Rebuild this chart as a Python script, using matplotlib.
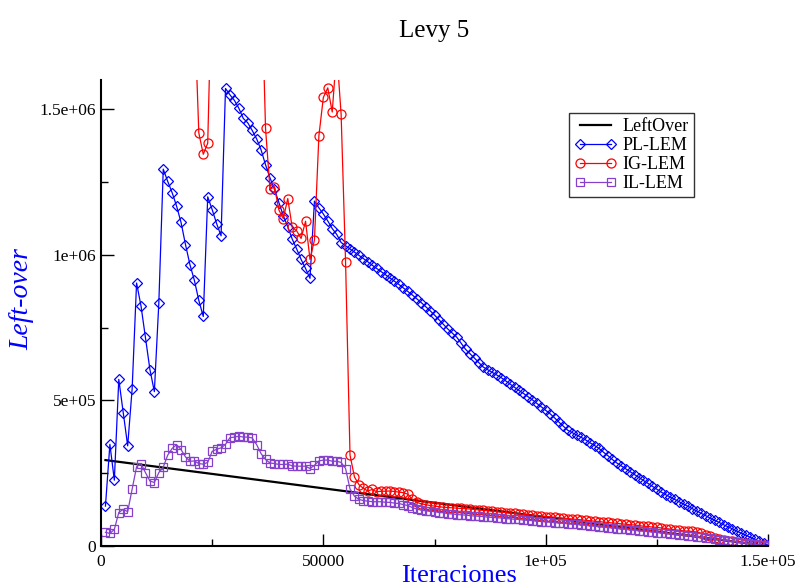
import matplotlib
matplotlib.use("Agg")
import matplotlib.pyplot as plt
from matplotlib.ticker import MultipleLocator, FixedFormatter, FixedLocator

# x in thousands of iterations, y in thousands
pl_x = list(range(1, 151))
pl_y = [137, 349, 226, 572, 457, 344, 539, 903, 824, 716, 606, 530, 833,
        1294, 1252, 1213, 1167, 1111, 1035, 966, 912, 843, 788, 1199, 1155, 1107, 1065,
        1571, 1549, 1530, 1503, 1468, 1453, 1427, 1398, 1360, 1309, 1264, 1225, 1179,
        1134, 1096, 1054, 1020, 984, 953, 919,
        1184, 1161, 1140, 1116, 1090, 1070, 1042,
        1031, 1020, 1009, 998, 987, 976, 964, 953, 942, 931, 920, 909, 898, 886, 874,
        862, 849, 836, 822, 808, 793, 777, 761, 745, 731, 717, 696, 675, 660, 645,
        629, 614, 605, 596, 587, 578, 567, 556, 545, 534, 524, 513, 502, 490, 478,
        466, 454, 440, 425, 411, 397, 389, 381, 373, 364, 354, 345, 335, 322, 310,
        297, 285, 275, 265, 255, 245, 235, 225, 215, 205, 195, 185, 176, 168, 160,
        152, 144, 136, 128, 120, 112, 104, 96, 88, 81, 73, 66, 59, 51, 44, 37, 30,
        23, 16, 9, 2]

ig_x = list(range(21, 151))
ig_y = [1850, 1418, 1345, 1383,
        2000, 2000, 2000, 2000, 2000, 2000, 2000, 2000, 2000, 2000, 2000, 2000,
        1434, 1225, 1233, 1154, 1124, 1193, 1094, 1082, 1056, 1115, 984, 1050,
        1408, 1540, 1573, 1490, 1700, 1482, 976,
        312, 237, 211, 198, 189, 194, 186, 188, 188, 189, 187, 185, 183, 178,
        160, 150, 145, 142, 139, 137, 135, 133, 132, 131, 130,
        129, 128, 127, 125, 124, 122, 121, 119, 118, 116,
        115, 113, 112, 110, 109, 107, 106, 104, 103, 101,
        100, 99, 97, 96, 94, 93, 91, 90, 88, 87,
        85, 84, 82, 81, 79, 78, 76, 75, 73, 72,
        70, 68, 67, 65, 64, 62, 60, 58, 56, 54,
        52, 51, 50, 48, 44, 39, 34, 29, 25, 21,
        18, 16, 14, 12, 10, 8, 6, 4, 2, 1]

il_x = list(range(1, 151))
il_y = [47, 43, 57, 115, 126, 118, 195, 272, 283, 252, 223, 218, 252, 271, 312,
        335, 348, 331, 306, 291, 292, 283, 281, 287, 325, 332, 337, 349, 372, 374,
        377, 374, 374, 371, 348, 317, 297, 285, 283, 280, 280, 281, 275, 274, 274,
        274, 266, 277, 292, 295, 295, 291, 291, 287, 266, 196, 171, 160, 156, 154,
        152, 152, 152, 150, 150, 147, 146, 142, 139, 132, 127, 123, 121, 119, 118,
        115, 114, 111, 110, 108,
        107, 106, 104, 103, 102, 101, 99, 98, 97, 96,
        94, 93, 92, 91, 89, 88, 87, 85, 84, 83,
        82, 80, 79, 78, 77, 75, 74, 72, 71, 69,
        68, 66, 65, 63, 62, 60, 58, 57, 55, 54,
        52, 51, 49, 48, 46, 45, 43, 42, 40, 38,
        37, 35, 34, 32, 30, 28, 26, 24, 22, 20,
        18, 16, 14, 12, 10, 8, 6, 4, 2, 1]

lo_x = [1, 150]
lo_y = [295, 0]

xticks = [0, 50000, 100000, 150000]
xtick_labels = ["0", "50000", "1e+05", "1.5e+05"]
yticks = [0, 500000, 1000000, 1500000]
ytick_labels = ["0", "5e+05", "1e+06", "1.5e+06"]

serif = ["Liberation Serif", "DejaVu Serif"]
plt.rcParams['font.family'] = serif

fig = plt.figure(figsize=(8, 5.88), dpi=100)
ax = fig.add_axes([101/800, 1-546/588, 667/800, 466/588])

def sc(xs, ys):
    return [v*1000 for v in xs], [v*1000 for v in ys]

x, y = sc(lo_x, lo_y)
ax.plot(x, y, color='black', lw=1.6, label='LeftOver')
x, y = sc(pl_x, pl_y)
ax.plot(x, y, color='#0000ff', lw=0.9, marker='D', ms=5, mfc='none', mew=0.9, label='PL-LEM')
x, y = sc(ig_x, ig_y)
ax.plot(x, y, color='#ff0000', lw=0.9, marker='o', ms=6.5, mfc='none', mew=0.9, label='IG-LEM')
x, y = sc(il_x, il_y)
ax.plot(x, y, color='#8540cc', lw=0.9, marker='s', ms=5.8, mfc='none', mew=0.9, label='IL-LEM')

ax.set_xlim(0, 150000)
ax.set_ylim(0, 1.6e6)
ax.xaxis.set_major_locator(FixedLocator(xticks))
ax.xaxis.set_major_formatter(FixedFormatter(xtick_labels))
ax.yaxis.set_major_locator(FixedLocator(yticks))
ax.yaxis.set_major_formatter(FixedFormatter(ytick_labels))
ax.xaxis.set_minor_locator(MultipleLocator(25000))
ax.yaxis.set_minor_locator(MultipleLocator(250000))
ax.tick_params(which='both', direction='in', top=False, right=False, labelsize=12.5, width=1.0)
ax.tick_params(which='major', length=9)
ax.tick_params(which='minor', length=5)
ax.tick_params(axis='x', pad=6)
for s in ['top', 'right']:
    ax.spines[s].set_visible(False)
for s in ['left', 'bottom']:
    ax.spines[s].set_linewidth(1.5)

ax.set_title('Levy 5', fontsize=18, pad=31)
ax.set_xlabel('Iteraciones', color='#0000ff', fontsize=19)
ax.xaxis.set_label_coords((459-101)/667, -0.040)
ax.set_ylabel('Left-over', color='#0000ff', fontsize=20, style='italic')
ax.yaxis.set_label_coords(-0.100, 0.53)

leg = ax.legend(loc='upper left', bbox_to_anchor=((569-101)/667, 1-(113-80)/466),
                fontsize=13, frameon=True, fancybox=False, numpoints=2,
                handlelength=2.3, borderpad=0.3, labelspacing=0.1, handletextpad=0.35,
                borderaxespad=0)
leg.get_frame().set_edgecolor('black')
leg.get_frame().set_linewidth(1.0)

fig.savefig('out.png', dpi=100)
